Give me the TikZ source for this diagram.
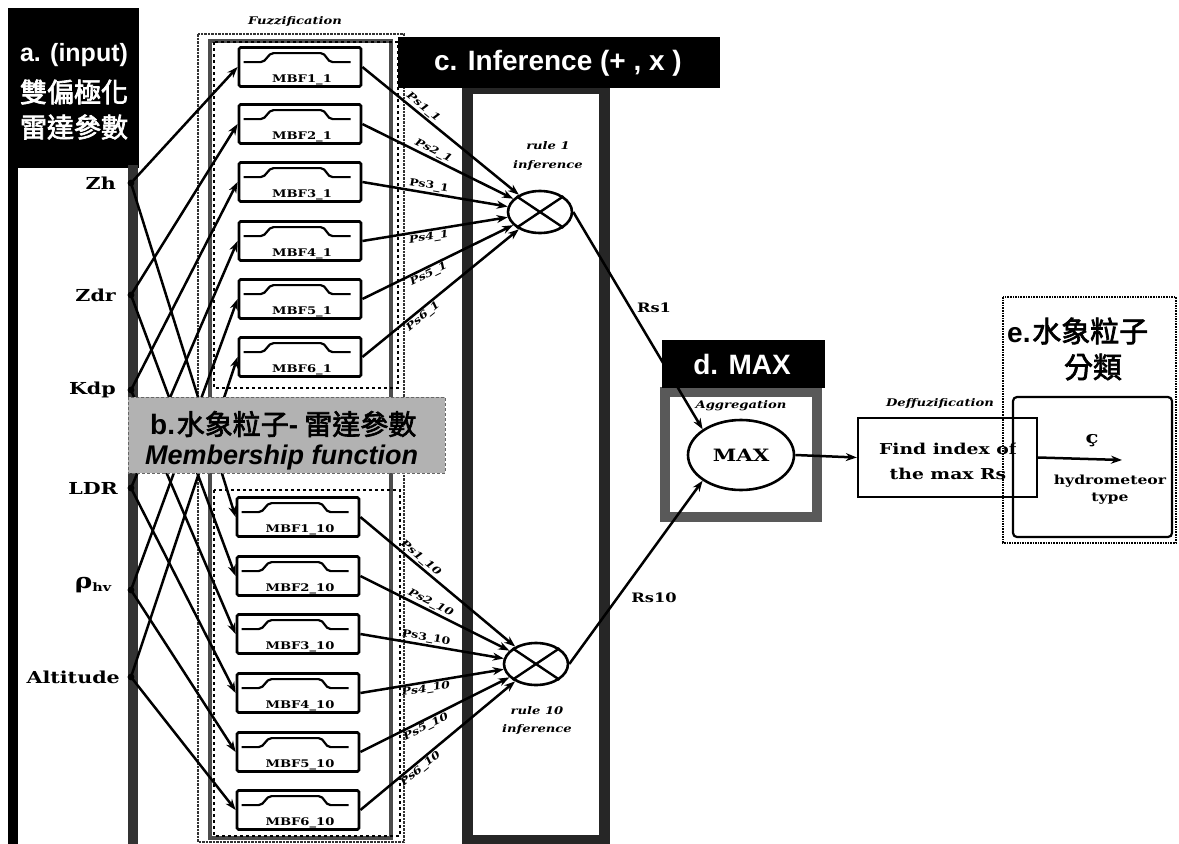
\documentclass[tikz,border=0pt]{standalone}
\usepackage{fontspec}
\setmainfont{DejaVu Serif}
\newfontfamily\lab[FakeStretch=1.25]{DejaVu Serif}
\newfontfamily\hd{Liberation Sans}
\newfontfamily\cjk[AutoFakeBold=2.5]{Noto Sans CJK TC}
\usetikzlibrary{arrows.meta,shapes.geometric,calc}
\newcommand\mbfcurve[1]{\draw[line width=2.2pt] ([shift={(6,16)}]#1.north west) -- ++(17,0) to[out=0,in=180] ++(13,-9) -- ++(47,0) to[out=0,in=180] ++(12,9) -- ++(18,0);}
\begin{document}
\begin{tikzpicture}[x=1pt,y=-1pt,
  mbf/.style={draw, line width=2.8pt, minimum width=122pt, minimum height=39pt, inner sep=0pt, rounded corners=1.5pt, fill=white},
  mlab/.style={font=\lab\bfseries\fontsize{10.5}{11}\selectfont, inner sep=0pt},
  inlab/.style={font=\lab\bfseries\fontsize{16.5}{17}\selectfont, anchor=east, inner sep=0pt},
  conn/.style={line width=2.5pt, -{Stealth[length=11pt,width=8pt]}},
  ps/.style={font=\lab\bfseries\itshape\fontsize{10}{11}\selectfont, inner sep=1pt},
  psu/.style={font=\lab\bfseries\fontsize{10}{11}\selectfont, inner sep=1pt},
  rulee/.style={draw, ellipse, line width=2.6pt, minimum width=64pt, minimum height=42pt, inner sep=0pt, fill=white},
  itl/.style={font=\lab\bfseries\itshape\fontsize{10.5}{11}\selectfont, inner sep=0pt},
  rslab/.style={font=\lab\bfseries\fontsize{13}{14}\selectfont, inner sep=0pt},
  whitehd/.style={text=white, inner sep=0pt}
]
\useasboundingbox (0,0) rectangle (1179,844);
\fill[white] (0,0) rectangle (1179,844);

% ---------- a. input column ----------
\fill[black] (8,8) rectangle (139,168);
\draw[line width=10pt, black] (13,168) -- (13,846);
\draw[line width=10pt, black!80] (133,165) -- (133,846);
\node[whitehd, font=\hd\bfseries\fontsize{25}{26}\selectfont] (ahead) at (74,55) {a. (input)};
\node[whitehd, font=\cjk\bfseries\fontsize{27}{28}\selectfont] (ahead2) at (74,92) {雙偏極化};
\node[whitehd, font=\cjk\bfseries\fontsize{27}{28}\selectfont] (ahead3) at (74,127) {雷達參數};

\node[inlab] (l1) at (116,183) {Zh};
\node[inlab] (l2) at (116,295) {Zdr};
\node[inlab] (l3) at (116,390) {Kdp};
\node[inlab] (l4) at (118,488) {LDR};
\node[inlab] (l5) at (112,585) {{\fontsize{21}{22}\selectfont ρ}\textsubscript{hv}};
\node[inlab] (l6) at (120,677) {Altitude};
\foreach \i/\y in {1/183,2/295,3/390,4/488,5/590,6/677}{
  \coordinate (in\i) at (131,\y);
}

% ---------- b. membership column ----------
\draw[densely dotted, line width=2.5pt, black!80] (198,34) rectangle (404,842);
\draw[line width=3.5pt, black!70] (210,41) rectangle (391,838);
\draw[dashed, line width=1.6pt] (214,42) rectangle (398,388);
\draw[dashed, line width=1.6pt] (214,490) rectangle (400,836);
\node[itl] (fuzz) at (295,22) {Fuzzification};

% ---------- c. inference body ----------
\draw[line width=11pt, black!85] (467,88) rectangle (604,840);

% MBF boxes
\foreach \i/\y in {1/67,2/124,3/182,4/241,5/299,6/357}{
  \node[mbf] (ma\i) at (300,\y) {};
  \mbfcurve{ma\i}
  \node[mlab] (mal\i) at ([shift={(2,-8)}]ma\i.south) {MBF\i\_1};
}
\foreach \i/\y in {1/517,2/576,3/634,4/693,5/752,6/810}{
  \node[mbf] (mb\i) at (298,\y) {};
  \mbfcurve{mb\i}
  \node[mlab] (mbl\i) at ([shift={(2,-8)}]mb\i.south) {MBF\i\_10};
}

% input connectors
\foreach \i in {1,...,6}{
  \draw[conn] (in\i) -- (ma\i.west);
  \draw[conn] (in\i) -- (mb\i.west);
  \fill (in\i) circle (3.4);
}

% band b
\fill[black!30] (128,397) rectangle (445,473);
\draw[densely dashed, line width=1pt, black!60] (128,397) rectangle (445,473);
\node[anchor=west, inner sep=0pt] (btxt) at (150,424) {{\hd\bfseries\fontsize{28}{30}\selectfont b.}\,{\cjk\bfseries\fontsize{28}{30}\selectfont 水象粒子{\hd\bfseries -} 雷達參數}};
\node[anchor=west, inner sep=0pt, font=\hd\bfseries\itshape\fontsize{27}{28}\selectfont] (btxt2) at (145,458) {Membership function};

% rule ellipses
\node[rulee] (r1) at (540,212) {};
\draw[line width=2.4pt] (r1.north west) -- (r1.south east) (r1.north east) -- (r1.south west);
\node[rulee] (r10) at (536,664) {};
\draw[line width=2.4pt] (r10.north west) -- (r10.south east) (r10.north east) -- (r10.south west);
\node[itl] (rt1) at (548,146) {rule 1};
\node[itl] (rt1b) at (548,166) {inference};
\node[itl] (rt10) at (537,711) {rule 10};
\node[itl] (rt10b) at (537,729) {inference};

% MBF -> rule connectors
\draw[conn] (ma1.east) -- node[ps,sloped,above,pos=0.36]{Ps1\_1} (r1);
\draw[conn] (ma2.east) -- node[ps,sloped,above,pos=0.45]{Ps2\_1} (r1);
\draw[conn] (ma3.east) -- node[psu,sloped,above,pos=0.45]{Ps3\_1} (r1);
\draw[conn] (ma4.east) -- node[ps,sloped,below,pos=0.45]{Ps4\_1} (r1);
\draw[conn] (ma5.east) -- node[ps,sloped,below,pos=0.42]{Ps5\_1} (r1);
\draw[conn] (ma6.east) -- node[ps,sloped,below,pos=0.36]{Ps6\_1} (r1);
\draw[conn] (mb1.east) -- node[ps,sloped,above,pos=0.36]{Ps1\_10} (r10);
\draw[conn] (mb2.east) -- node[ps,sloped,above,pos=0.45]{Ps2\_10} (r10);
\draw[conn] (mb3.east) -- node[psu,sloped,above,pos=0.45]{Ps3\_10} (r10);
\draw[conn] (mb4.east) -- node[ps,sloped,below,pos=0.45]{Ps4\_10} (r10);
\draw[conn] (mb5.east) -- node[ps,sloped,below,pos=0.42]{Ps5\_10} (r10);
\draw[conn] (mb6.east) -- node[ps,sloped,below,pos=0.36]{Ps6\_10} (r10);

% c header
\fill[black] (398,37) rectangle (720,88);
\node[whitehd, font=\hd\bfseries\fontsize{28}{30}\selectfont] (chead) at (558,63) {c. Inference (+ , x )};

% ---------- d. MAX ----------
\draw[line width=10pt, black!65] (665,392) rectangle (817,517);
\fill[black] (662,340) rectangle (825,388);
\node[whitehd, font=\hd\bfseries\fontsize{28}{30}\selectfont] (dhead) at (742,364) {d. MAX};
\node[itl, font=\lab\bfseries\itshape\fontsize{10.5}{11}\selectfont] (aggr) at (741,406) {Aggregation};
\node[draw, ellipse, line width=2.6pt, minimum width=106pt, minimum height=70pt, inner sep=0pt, fill=white,
      font=\lab\bfseries\fontsize{17}{18}\selectfont] (max) at (741,455) {MAX};

\draw[conn] (r1.east) -- (max.north west);
\draw[conn] (r10.east) -- (max.south west);
\node[rslab] (rs1) at (654,308) {Rs1};
\node[rslab] (rs10) at (654,598) {Rs10};

% ---------- Find index / e ----------
\node[draw, line width=2.4pt, minimum width=179pt, minimum height=79pt, inner sep=0pt] (find) at (947.5,457.5) {};
\node[itl, font=\lab\bfseries\itshape\fontsize{10.5}{11}\selectfont] (defuz) at (940,404) {Deffuzification};
\draw[conn] (max.east) -- (find.west);
\begin{scope}
  \clip (858,418) rectangle (1015,497);
  \node[align=center, inner sep=0pt, font=\lab\bfseries\fontsize{15}{25}\selectfont] (findtxt) at (948,461) {Find index of\\the max Rs};
\end{scope}

\draw[densely dotted, line width=1.6pt] (1003,297) rectangle (1176,543);
\draw[line width=2.2pt, rounded corners=4pt] (1013,397) rectangle (1172,537);
\node[anchor=west, inner sep=0pt] (etxt) at (1007,331) {{\hd\bfseries\fontsize{28}{30}\selectfont e.}\,{\cjk\bfseries\fontsize{29}{30}\selectfont 水象粒子}};
\node[inner sep=0pt, font=\cjk\bfseries\fontsize{29}{30}\selectfont] (etxt2) at (1093,367) {分類};

\coordinate (hyd) at (1122,460);
\draw[conn] (find.east) -- (hyd);
\node[inner sep=0pt, font=\lab\bfseries\fontsize{17}{18}\selectfont] (cc) at (1092,441) {ç};
\begin{scope}
  \clip (1013,397) rectangle (1170,537);
  \node[align=center, inner sep=0pt, font=\lab\bfseries\fontsize{12.5}{17}\selectfont] (hydtxt) at (1110,490) {hydrometeor\\type};
\end{scope}
\end{tikzpicture}
\end{document}
